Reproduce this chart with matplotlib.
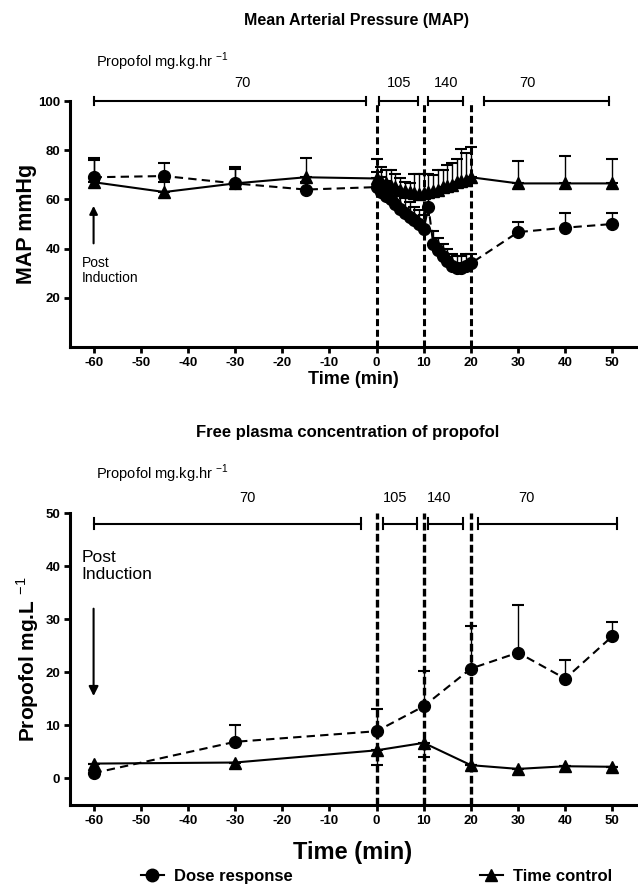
import numpy as np
import matplotlib
matplotlib.use('Agg')
import matplotlib.pyplot as plt
from matplotlib.lines import Line2D

plt.rcParams['font.family'] = ['Liberation Sans', 'DejaVu Sans']
plt.rcParams['mathtext.fontset'] = 'custom'
plt.rcParams['mathtext.rm'] = 'Liberation Sans'
plt.rcParams['mathtext.bf'] = 'Liberation Sans:bold'
plt.rcParams['axes.unicode_minus'] = False

# Mean arterial pressure (top panel)
# ----------------------------------

map_time = [-60, -45, -30, -15] + list(range(0, 21)) + [30, 40, 50]
map_dose = [69, 69.5, 66.5, 64,
            65, 63, 61.5, 60, 58, 56, 54.5, 53, 51.5, 50, 48,
            57, 42, 39.5, 37, 35, 33, 32, 32, 33, 34,
            46.7, 48.5, 50]
map_dose_err = [8, 5.2, 6, 3,
                6, 6, 6, 6, 6, 6, 6, 6, 5.5, 5.5, 5.5,
                6, 5, 5, 5, 5, 5, 5, 5, 5, 4,
                4.1, 5.9, 4.4]
map_ctrl = [67, 63, 66.5, 69,
            68.5, 67.5, 66.5, 65.5, 65, 64, 63.5, 63, 62.5, 62, 62.5,
            63, 63.5, 64, 65, 65.5, 66, 67, 67.5, 68, 69,
            66.5, 66.5, 66.5]
map_ctrl_err = [9, 4, 6.5, 8,
                8, 5.5, 5.5, 6.3, 5.5, 4.5, 3.5, 3.5, 8, 8.5, 8,
                7.5, 6.5, 7.8, 7, 8.5, 9, 9.6, 13, 11, 12.4,
                9, 11, 10]

# Free plasma propofol (bottom panel)
# -----------------------------------

pc_time = [-60, -30, 0, 10, 20, 30, 40, 50]
pc_dose = [1.0, 6.9, 8.9, 13.6, 20.7, 23.7, 18.8, 26.8]
pc_dose_err = [0, 3.2, 4.1, 6.6, 8.0, 8.9, 3.5, 2.7]
pc_ctrl = [2.8, 3.0, 5.3, 6.7, 2.5, 1.8, 2.3, 2.2]
pc_ctrl_err = [0, 0, 2.7, 2.7, 0, 0, 0, 0]

# infusion rate periods (mg.kg.hr-1)
rate_labels = ['70', '105', '140', '70']
map_periods = [(-60, -2.3), (0.6, 8.8), (11, 18.3), (22.7, 49.3)]
map_label_x = [-28.4, 4.8, 14.7, 32]
pc_periods = [(-60, -3.4), (1.4, 8.6), (10.9, 18.4), (21.6, 51)]
pc_label_x = [-27.3, 3.9, 13.3, 31.8]
switch_times = [0, 10, 20]

xticks = list(range(-60, 51, 10))


def style_axes(ax, ylim, yticks):
    for side in ('top', 'right'):
        ax.spines[side].set_visible(False)
    for side in ('left', 'bottom'):
        ax.spines[side].set_linewidth(2.2)
    ax.set_xlim(-65, 55)
    ax.set_ylim(*ylim)
    ax.set_xticks(xticks)
    ax.set_yticks(yticks)
    ax.tick_params(width=2, length=4, labelsize=9.5, pad=3)
    for lbl in ax.get_xticklabels() + ax.get_yticklabels():
        lbl.set_fontweight('bold')


def draw_periods(ax, periods, label_x, y, cap, ytext, ytitle, fs):
    for (x0, x1) in periods:
        ax.plot([x0, x1], [y, y], color='k', lw=1.5, clip_on=False)
        ax.plot([x0, x0], [y-cap, y+cap], color='k', lw=1.5, clip_on=False)
        ax.plot([x1, x1], [y-cap, y+cap], color='k', lw=1.5, clip_on=False)
    for lbl, x in zip(rate_labels, label_x):
        ax.text(x, ytext, lbl, ha='center', va='center', fontsize=fs,
                clip_on=False)
    ax.text(-59.5, ytitle, r'Propofol mg.kg.hr $^{-1}$', ha='left',
            va='center', fontsize=fs, clip_on=False)


def draw_series(ax, t, dose, dose_err, ctrl, ctrl_err, ctrl_down=False):
    zero = np.zeros(len(t))
    ctrl_yerr = [ctrl_err, zero] if ctrl_down else [zero, ctrl_err]
    ax.errorbar(t, ctrl, yerr=ctrl_yerr, color='k', lw=1.5, ls='-',
                marker='^', ms=8.5, elinewidth=1, capsize=4.5, capthick=1.5,
                clip_on=False, zorder=3)
    ax.errorbar(t, dose, yerr=[zero, dose_err], color='k', lw=1.5,
                ls=(0, (4, 2.5)), marker='o', ms=8.5, elinewidth=1,
                capsize=4.5, capthick=1.5, clip_on=False, zorder=4)


fig = plt.figure(figsize=(6.38, 8.86), dpi=100)

# titles
fig.text(356/638, 1-20/886, 'Mean Arterial Pressure (MAP)', ha='center',
         va='center', fontsize=11.5, fontweight='bold')
fig.text(348/638, 1-432/886, 'Free plasma concentration of propofol',
         ha='center', va='center', fontsize=12, fontweight='bold')

# top panel
ax1 = fig.add_axes([70/638, 1-347/886, 566/638, 246/886])
style_axes(ax1, (0, 100), [20, 40, 60, 80, 100])
ax1.vlines(switch_times, 0, 100, colors='k', lw=2.2,
           linestyles=[(0, (2.3, 1.2))], zorder=2, clip_on=False)
draw_series(ax1, map_time, map_dose, map_dose_err, map_ctrl, map_ctrl_err)
draw_periods(ax1, map_periods, map_label_x, 100, 1.6, 107.3, 115.9, 10.5)
ax1.set_ylabel('MAP mmHg', fontsize=15.5, fontweight='bold', labelpad=1)
ax1.set_xlabel('Time (min)', fontsize=13, fontweight='bold', labelpad=2)
ax1.annotate('', xy=(-60, 58.5), xytext=(-60, 41),
             arrowprops=dict(arrowstyle='-|>', color='k', lw=1.5,
                             mutation_scale=12))
ax1.text(-62.5, 31, 'Post\nInduction', ha='left', va='center', fontsize=10,
         linespacing=1.1)

# bottom panel
ax2 = fig.add_axes([70/638, 1-805/886, 566/638, 292/886])
style_axes(ax2, (-5, 50), [0, 10, 20, 30, 40, 50])
ax2.vlines(switch_times, -5, 50, colors='k', lw=2.4,
           linestyles=[(0, (2.3, 1.0))], zorder=2, clip_on=False)
draw_series(ax2, pc_time, pc_dose, pc_dose_err, pc_ctrl, pc_ctrl_err,
            ctrl_down=True)
draw_periods(ax2, pc_periods, pc_label_x, 48, 1.1, 52.9, 57.4, 10.5)
ax2.set_ylabel(r'Propofol mg.L $^{-1}$', fontsize=15, fontweight='bold',
               labelpad=3)
ax2.set_xlabel('Time (min)', fontsize=17, fontweight='bold', labelpad=10)
ax2.annotate('', xy=(-60, 15), xytext=(-60, 32.5),
             arrowprops=dict(arrowstyle='-|>', color='k', lw=1.5,
                             mutation_scale=14))
ax2.text(-62.5, 40, 'Post\nInduction', ha='left', va='center', fontsize=12.5,
         linespacing=1.1)

# legend
handles = [Line2D([], [], color='k', lw=1.5, marker='o', ms=9),
           Line2D([], [], color='k', lw=1.5, marker='^', ms=9)]
leg = fig.legend(handles, ['Dose response', 'Time control'], ncol=2,
                 loc='lower center', bbox_to_anchor=(0.59, -0.015),
                 frameon=False, handlelength=1.4, handletextpad=0.6,
                 columnspacing=11.2, prop=dict(size=12, weight='bold'))

fig.savefig('out.png', dpi=100)
